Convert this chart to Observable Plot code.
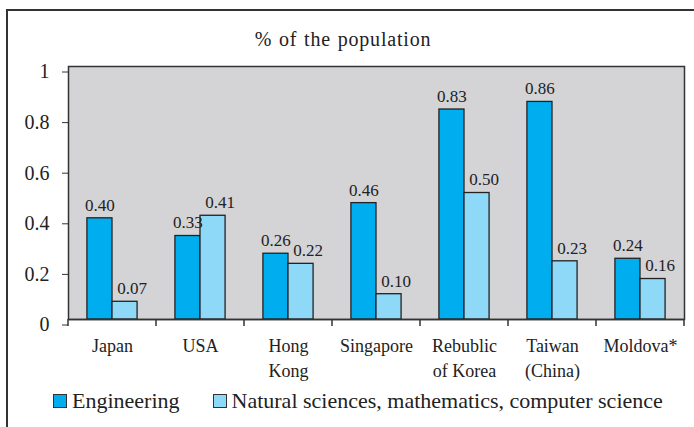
<!DOCTYPE html>
<html>
<head>
<meta charset="utf-8">
<script src="https://cdn.jsdelivr.net/npm/d3@7"></script>
<script src="https://cdn.jsdelivr.net/npm/@observablehq/plot@0.6"></script>
<style>
  html, body { margin: 0; padding: 0; background: #fff; }
  #wrap { position: relative; width: 694px; height: 427px; overflow: hidden; color: #222; font-family: 'Liberation Serif', serif; }
  #frame { position: absolute; left: 6px; top: 9px; width: 800px; height: 600px; border-left: 2px solid #333; border-top: 2px solid #333; }
  #title { position: absolute; left: 0; width: 686px; top: 28px; text-align: center; font-size: 20px; letter-spacing: 0.8px; word-spacing: 1px; }
  #chart { position: absolute; left: 0; top: 0; }
  #legend { position: absolute; left: 53px; top: 388px; font-size: 22px; white-space: nowrap; }
  .item { display: inline-flex; align-items: center; margin-right: 33px; }
  .sw { display: inline-block; width: 12px; height: 12px; border: 1.5px solid #333; margin-right: 5px; }
</style>
</head>
<body>
<div id="wrap">
  <div id="frame"></div>
  <div id="chart"></div>
  <div id="title">% of the population</div>
  <div id="legend"></div>
</div>
<script>
const categories = ["Japan", "USA", "Hong\nKong", "Singapore", "Rebublic\nof Korea", "Taiwan\n(China)", "Moldova*"];
const engineering = [0.40, 0.33, 0.26, 0.46, 0.83, 0.86, 0.24];
const natural = [0.07, 0.41, 0.22, 0.10, 0.50, 0.23, 0.16];
const seriesNames = ["Engineering", "Natural sciences, mathematics, computer science"];
const seriesColors = ["#00aeef", "#8ed8f8"];
const yTicks = [0, 0.2, 0.4, 0.6, 0.8, 1];

const W = 694, H = 427, mL = 68, mR = 10, mT = 66, mB = 108;
const band = (W - mL - mR) / categories.length;
const barW = band * 0.285;
const gap = (band - 2 * barW) / 2;

const rows = [];
categories.forEach((c, i) => {
  rows.push({cat: c, series: seriesNames[0], value: engineering[i], k: 0});
  rows.push({cat: c, series: seriesNames[1], value: natural[i], k: 1});
});
const eng = rows.filter(d => d.k === 0);
const nat = rows.filter(d => d.k === 1);

const fontFam = "'Liberation Serif', serif";

const boundaryTicks = (index, scales, values, dims) => {
  const g = d3.create("svg:g").attr("stroke", "#333").attr("stroke-width", 1.5);
  const xs = categories.map(c => scales.x(c));
  xs.push(scales.x(categories[categories.length - 1]) + scales.x.bandwidth());
  const y0 = scales.y(0);
  xs.forEach(x => g.append("line").attr("x1", x).attr("x2", x).attr("y1", y0).attr("y2", y0 + 7));
  return g.node();
};

const plot = Plot.plot({
  width: W, height: H,
  marginLeft: mL, marginRight: mR, marginTop: mT, marginBottom: mB,
  style: {fontFamily: fontFam, color: "#222", background: "transparent"},
  x: {domain: categories, padding: 0, axis: null, label: null},
  y: {domain: [0, 1], axis: null, label: null},
  color: {domain: seriesNames, range: seriesColors},
  marks: [
    Plot.frame({fill: "#d4d4d6", stroke: "#333", strokeWidth: 1.5}),
    Plot.barY(eng, {x: "cat", y: "value", fill: "series", stroke: "#222", strokeWidth: 1.3, insetLeft: gap, insetRight: gap + barW}),
    Plot.barY(nat, {x: "cat", y: "value", fill: "series", stroke: "#222", strokeWidth: 1.3, insetLeft: gap + barW, insetRight: gap}),
    Plot.text(eng, {x: "cat", y: "value", text: d => d.value.toFixed(2), dx: -barW / 2, dy: -13, fontSize: 17, fill: "#222", fontFamily: fontFam}),
    Plot.text(nat, {x: "cat", y: "value", text: d => d.value.toFixed(2), dx: barW / 2 + 7, dy: -13, fontSize: 17, fill: "#222", fontFamily: fontFam}),
    Plot.ruleY([0], {stroke: "#333", strokeWidth: 1.5}),
    Plot.axisY({ticks: yTicks, tickSize: 6, tickPadding: 13, tickFormat: d => String(d), fontSize: 20, dy: 5.5, stroke: "#333", label: null, fontFamily: fontFam}),
    Plot.axisX({tickSize: 0, tickPadding: 15, fontSize: 18, lineHeight: 1.39, label: null, fontFamily: fontFam}),
    boundaryTicks
  ]
});
document.getElementById("chart").appendChild(plot);

const legend = document.getElementById("legend");
seriesNames.forEach((s, i) => {
  const item = document.createElement("span");
  item.className = "item";
  const sw = document.createElement("span");
  sw.className = "sw";
  sw.style.background = seriesColors[i];
  item.appendChild(sw);
  const t = document.createElement("span");
  t.textContent = s;
  item.appendChild(t);
  legend.appendChild(item);
});
</script>
</body>
</html>
